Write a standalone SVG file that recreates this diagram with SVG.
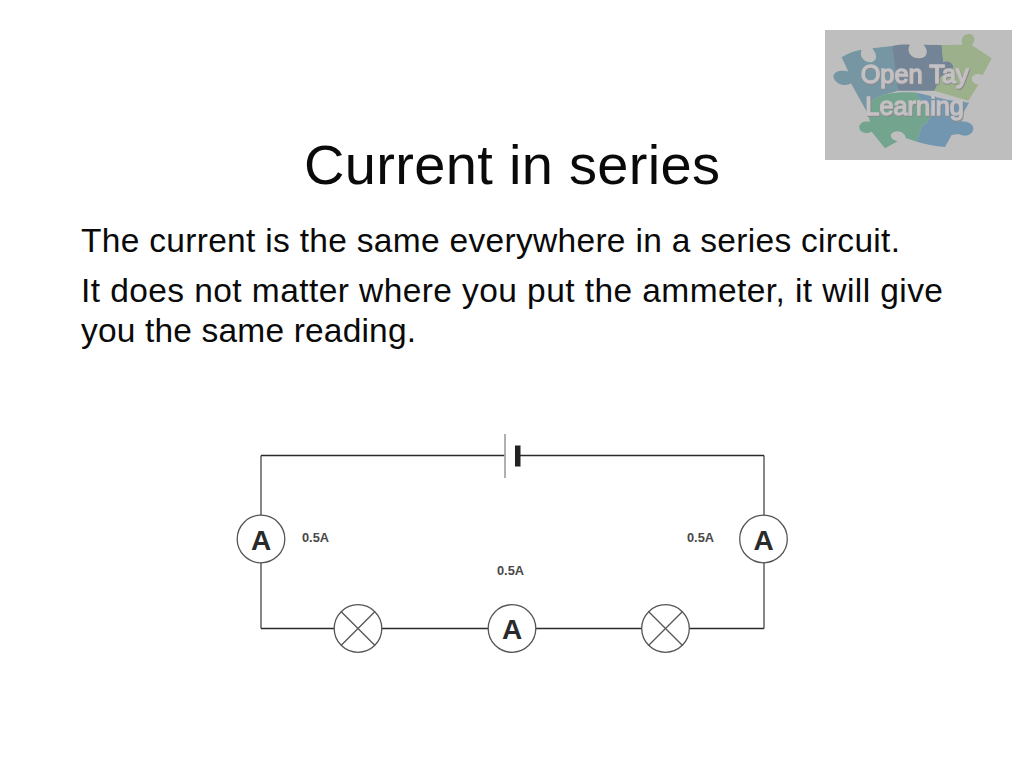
<svg xmlns="http://www.w3.org/2000/svg" width="1024" height="768" viewBox="0 0 1024 768">
<style>
text{font-family:"Liberation Sans",Arial,sans-serif;fill:#0a0a0a}
.title{font-size:56px}
.body{font-size:33.500px}
.wire{fill:none;stroke:#2a2a2a;stroke-width:1.3}
.wirev{fill:none;stroke:#6a6a6a;stroke-width:1.6}
.sym{fill:#fff;stroke:#555;stroke-width:1.3}
.x{stroke:#555;stroke-width:1.3}
.a{font-size:28px;font-weight:bold;text-anchor:middle;fill:#2a2a2a}
.v{font-size:12.800px;font-weight:bold;fill:#484848}
.lt{font-size:76px;fill:#c4c0c4;stroke:#c4c0c4;stroke-width:4;text-anchor:middle}
.ls{font-size:76px;fill:#8a8a8a;stroke:#8a8a8a;stroke-width:5;text-anchor:middle}
</style>
<defs>
<filter id="soft" x="-5%" y="-5%" width="110%" height="110%"><feGaussianBlur stdDeviation="1.500"/></filter>
<filter id="soft2" x="-5%" y="-10%" width="110%" height="120%"><feGaussianBlur stdDeviation="2"/></filter>
</defs>
<rect width="1024" height="768" fill="#fff"/>
<g id="logo">
<rect x="825" y="30" width="187" height="130" fill="#bebebe"/>
<g transform="translate(815,20) scale(.33333)">
<g filter="url(#soft)">
<path fill="#7496a2" d="M80 112C105 97 128 90 140 90C130 110 150 130 172 126C192 118 182 98 172 85L232 78L245 135L250 212L215 222C190 232 150 240 158 280L108 190C95 200 60 195 55 170C58 150 85 150 100 155Z"/>
<path fill="#738497" d="M232 78C250 74 270 73 285 74C272 95 290 116 315 115C338 113 342 90 325 74L380 75L385 125C400 120 418 128 414 145C412 160 385 165 378 170L360 212L250 212Z"/>
<path fill="#9cb08c" d="M380 75L442 74C435 50 450 40 465 42C482 46 482 65 470 75L530 115L503 166C490 158 472 162 470 176C472 190 485 192 490 194L460 242L358 212L378 170C385 165 412 160 414 145C418 128 400 120 385 125Z"/>
<path fill="#72a48e" d="M215 222C245 216 280 216 305 218C310 235 330 255 345 265C350 290 345 305 320 318L306 365L272 354C272 335 240 325 228 343C225 358 240 362 248 364L210 385L170 335C150 345 130 335 133 318C140 300 158 305 165 305L158 280C150 240 190 232 215 222Z"/>
<path fill="#7396b0" d="M305 218L400 240L462 248L430 305C450 300 478 310 475 328C470 350 445 350 432 342L410 345L390 381C360 378 330 372 306 365L320 318C345 305 350 290 345 265C330 255 310 235 305 218Z"/>
<g class="shadow">
<text class="ls" x="301" y="192" filter="url(#soft2)">Open Tay</text>
<text class="ls" x="301" y="288" filter="url(#soft2)">Learning</text>
</g>
</g>
<g filter="url(#soft)">
<text class="lt" x="299" y="189">Open Tay</text>
<text class="lt" x="299" y="285">Learning</text>
</g>
</g>
</g>
<g id="title"><text class="title" x="304" y="184" textLength="416">Current in series</text></g>
<g id="body">
<text class="body" x="81" y="252" textLength="819">The current is the same everywhere in a series circuit.</text>
<text class="body" x="81" y="302" textLength="862">It does not matter where you put the ammeter, it will give</text>
<text class="body" x="81" y="341.500" textLength="335">you the same reading.</text>
</g>
<g id="connectors">
<path class="wirev" d="M261 455.500V628.500M764 455.500V628.500"/>
<path class="wire" d="M505 455.500H261M261 628.500H764M764 455.500H517"/>
</g>
<g id="battery">
<line x1="505" y1="434" x2="505" y2="478" stroke="#a8a8a8" stroke-width="1.800"/>
<rect x="515" y="445.500" width="5.500" height="21" fill="#222"/>
</g>
<g id="ammeter-left"><circle class="sym" cx="261" cy="539" r="23.800"/><text class="a" x="261" y="550">A</text></g>
<g id="ammeter-right"><circle class="sym" cx="763.500" cy="539" r="23.800"/><text class="a" x="763.500" y="550">A</text></g>
<g id="ammeter-bottom"><circle class="sym" cx="512" cy="628.500" r="23.800"/><text class="a" x="512" y="639">A</text></g>
<g id="lamp-left"><circle class="sym" cx="358" cy="628.500" r="23.800"/><path class="x" d="M341 611.500L375 645.500M375 611.500L341 645.500"/></g>
<g id="lamp-right"><circle class="sym" cx="665.500" cy="628.500" r="23.800"/><path class="x" d="M648.500 611.500L682.500 645.500M682.500 611.500L648.500 645.500"/></g>
<g id="readings">
<text class="v" x="302" y="542">0.5A</text>
<text class="v" x="687" y="542">0.5A</text>
<text class="v" x="497" y="575">0.5A</text>
</g>
</svg>
